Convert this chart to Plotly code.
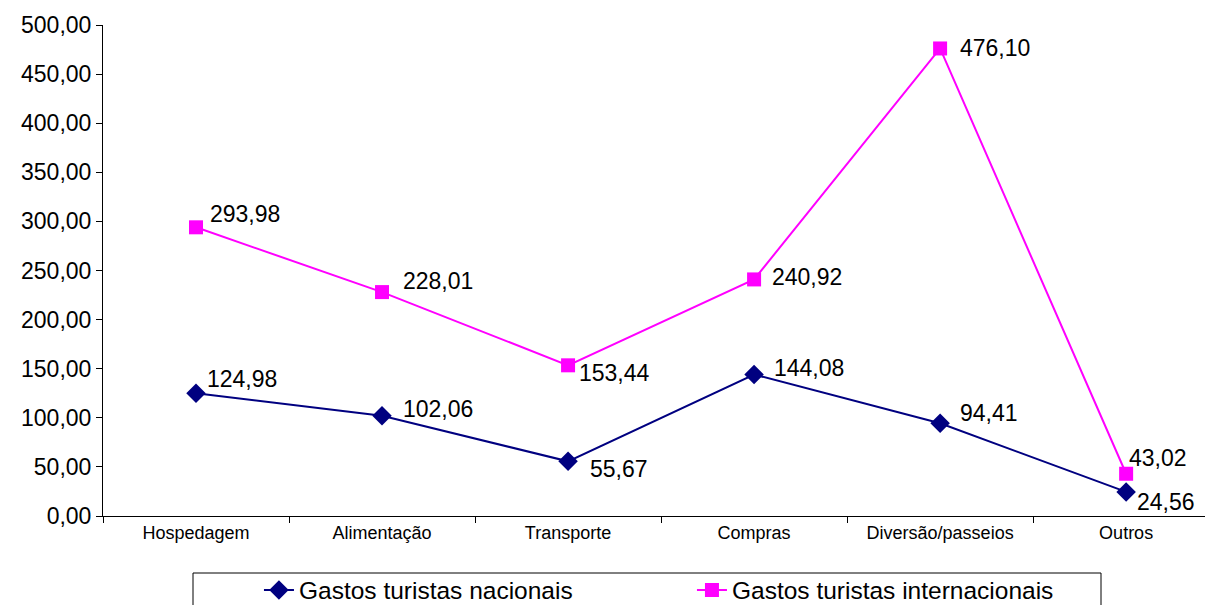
import plotly.graph_objects as go

categories = ["Hospedagem", "Alimentação", "Transporte", "Compras", "Diversão/passeios", "Outros"]
nacionais = [124.98, 102.06, 55.67, 144.08, 94.41, 24.56]
internacionais = [293.98, 228.01, 153.44, 240.92, 476.10, 43.02]
y_ticks = [0, 50, 100, 150, 200, 250, 300, 350, 400, 450, 500]

# label pixel offsets (left edge of text relative to point, vertical centre shift; up = positive)
off_nac = [(9, 14), (19, 7), (20, -8), (18, 7), (18, 10), (9, -10)]
off_int = [(12, 13), (19, 11), (9, -8), (16, 2), (18, 0), (1, 16)]

FONT = "Liberation Sans, Arial"
PLOT_W = 1118
PLOT_H = 491

fig = go.Figure()
fig.add_trace(go.Scatter(
    x=categories, y=nacionais, name="Gastos turistas nacionais",
    mode="lines+markers",
    line=dict(color="#000080", width=2),
    marker=dict(symbol="diamond", size=15, color="#000080"),
    cliponaxis=False,
))
fig.add_trace(go.Scatter(
    x=categories, y=internacionais, name="Gastos turistas internacionais",
    mode="lines+markers",
    line=dict(color="#FF00FF", width=2),
    marker=dict(symbol="square", size=14, color="#FF00FF"),
    cliponaxis=False,
))

def fmt(v):
    return f"{v:.2f}".replace(".", ",")

annotations = []
for vals, offs in ((nacionais, off_nac), (internacionais, off_int)):
    for c, v, (dx, dy) in zip(categories, vals, offs):
        annotations.append(dict(
            x=c, y=v, xref="x", yref="y", text=fmt(v), showarrow=False,
            xanchor="left", yanchor="middle", xshift=dx, yshift=dy,
            font=dict(family=FONT, size=23, color="black"),
        ))

fig.update_layout(
    width=1213, height=605,
    margin=dict(l=95, r=0, t=17, b=97),
    paper_bgcolor="white", plot_bgcolor="white",
    separators=",.",
    font=dict(family=FONT, color="black"),
    showlegend=True,
    legend=dict(
        orientation="h", x=0.1395, y=-0.1507, xanchor="left", yanchor="middle",
        borderwidth=0, bgcolor="rgba(0,0,0,0)",
        font=dict(size=24.5), entrywidth=388, entrywidthmode="pixels",
    ),
    annotations=annotations,
    shapes=[dict(type="rect", xref="paper", yref="paper",
                 x0=(193 - 103) / PLOT_W, x1=(1101 - 103) / PLOT_W,
                 y0=(516 - 573) / PLOT_H, y1=(516 - 630) / PLOT_H,
                 line=dict(color="black", width=1), fillcolor="rgba(0,0,0,0)")],
)
fig.update_xaxes(
    range=[-0.5, 5.51], showline=True, linecolor="black", linewidth=1,
    ticks="outside", ticklen=6, tickcolor="black", tickson="boundaries",
    tickfont=dict(size=18), showgrid=False, zeroline=False, automargin=False,
)
fig.update_yaxes(
    range=[0, 500], tickvals=y_ticks, tickformat=".2f",
    showline=True, linecolor="black", linewidth=1,
    ticks="outside", ticklen=6, tickcolor="black",
    tickfont=dict(size=23), showgrid=False, zeroline=False, automargin=False,
)

fig.write_html("out.html")
